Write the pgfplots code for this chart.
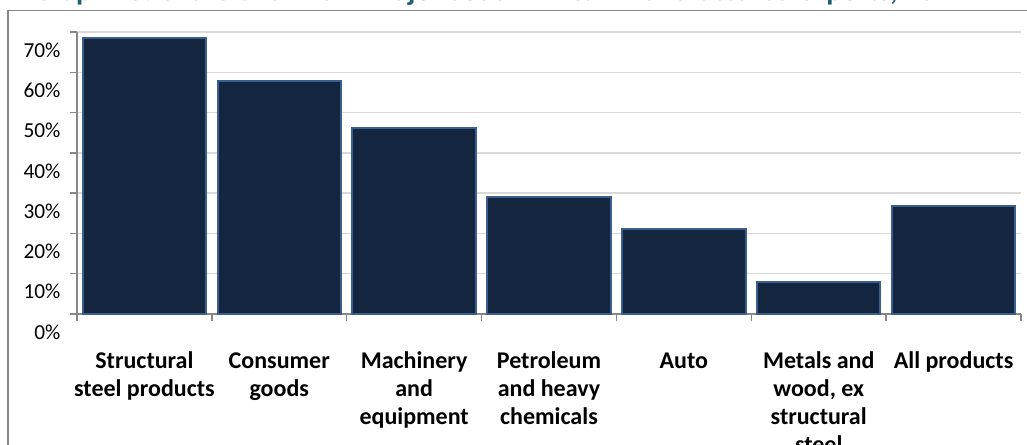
\documentclass[border=0pt]{standalone}
\usepackage{pgfplots}
\pgfplotsset{compat=1.18}
\usepackage{fontspec}
\setmainfont{Carlito}
\definecolor{barfill}{HTML}{13253F}
\definecolor{baredge}{HTML}{3A5F8E}
\definecolor{gridgray}{HTML}{D9D9D9}
\definecolor{axisgray}{HTML}{878787}
\definecolor{titleteal}{HTML}{1F5F73}
\begin{document}
\begin{tikzpicture}
\begin{axis}[
    at={(0,0)}, anchor=south west,
    scale only axis, width=708pt, height=211.5pt,
    xmin=-0.5, xmax=6.5, ymin=0, ymax=70,
    ybar, bar width=92.5pt, bar shift=0pt,
    axis x line=bottom, axis y line=left,
    axis line style={-, draw=axisgray, line width=1.1pt},
    tick style={draw=axisgray, line width=1.1pt},
    xtick={0,...,6},
    xticklabels={{\strut Structural\\steel products}, {\strut Consumer\\goods}, {\strut Machinery\\and\\equipment}, {\strut Petroleum\\and heavy\\chemicals}, {\strut Auto}, {\strut Metals and\\wood, ex\\structural\\steel}, {\strut All products}},
    major x tick style={draw=none},
    minor xtick={-0.5,0.5,...,6.5},
    tick align=outside, major tick length=5.25pt, minor tick length=5.25pt,
    ytick={0,10,...,70},
    /pgf/number format/assume math mode=true,
    yticklabel={\pgfmathprintnumber{\tick}\%},
    ymajorgrids, grid style={draw=gridgray, line width=1pt},
    yticklabel style={anchor=east, yshift=-13.5pt, xshift=-3.6pt, font=\fontsize{16}{19}\selectfont},
    xticklabel style={anchor=north, align=center, inner sep=0pt, yshift=-21pt, font=\bfseries\fontsize{18}{21}\selectfont},
  ]
  \addplot[fill=barfill, draw=baredge, line width=1.5pt] coordinates {
    (0,68.4) (1,57.9) (2,46.2) (3,29.0) (4,21.2) (5,8.0) (6,26.9)
  };
\end{axis}
\draw[axisgray, line width=0.8pt] (-51.75pt,-150pt) |- (800pt,227.6pt);
\node[anchor=base west, inner sep=0pt, text=titleteal, font=\bfseries\fontsize{22}{26}\selectfont] at (-33pt,235pt) {Graph 25: Share of SADC in major South African manufactured exports, 2012};
\pgfresetboundingbox
\path[use as bounding box] (-57.75pt,-97.5pt) rectangle (712.5pt,235.5pt);
\end{tikzpicture}
\end{document}
